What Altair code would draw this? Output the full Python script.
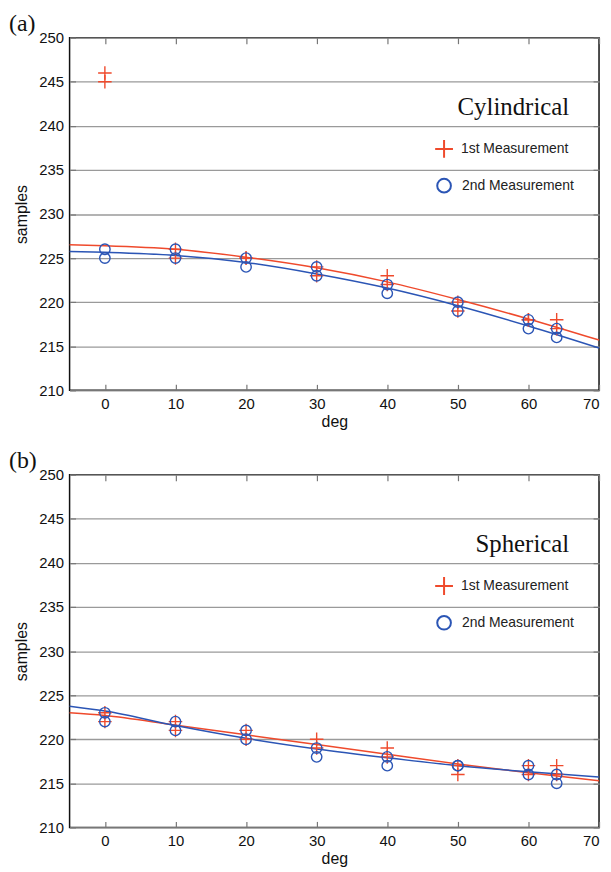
import altair as alt
import pandas as pd

# ---------------- data ----------------
angles = [0, 0, 10, 10, 20, 20, 30, 30, 40, 40, 50, 50, 60, 60, 64, 64]
cyl_first = [246, 245, 226, 225, 225, 225, 224, 223, 223, 222, 220, 219, 218, 218, 218, 217]
cyl_second = [226, 225, 226, 225, 225, 224, 224, 223, 222, 221, 220, 219, 218, 217, 217, 216]
sph_first = [223, 222, 222, 221, 221, 220, 220, 219, 219, 218, 217, 216, 217, 216, 217, 216]
sph_second = [223, 222, 222, 221, 221, 220, 219, 218, 218, 217, 217, 217, 217, 216, 216, 215]

fit_deg = [-5, 0, 10, 20, 30, 40, 50, 60, 70]
cyl_fit_first = [226.5, 226.4, 226.0, 225.1, 223.9, 222.3, 220.3, 218.1, 215.7]
cyl_fit_second = [225.75, 225.65, 225.3, 224.5, 223.2, 221.6, 219.6, 217.3, 214.8]
sph_fit_first = [223.0, 222.7, 221.6, 220.5, 219.4, 218.3, 217.2, 216.2, 215.3]
sph_fit_second = [223.75, 223.2, 221.55, 220.1, 218.9, 217.9, 217.0, 216.3, 215.7]

series_names = ["1st Measurement", "2nd Measurement"]
x_ticks = [0, 10, 20, 30, 40, 50, 60, 70]
y_ticks = [210, 215, 220, 225, 230, 235, 240, 245, 250]

RED = "#ef4a2c"
BLUE = "#2b55b5"
CROSS = "M-1.3,0L1.3,0M0,-1.3L0,1.3"


def points_df(first, second):
    return pd.DataFrame({
        "deg": angles + angles,
        "samples": first + second,
        "series": [series_names[0]] * len(first) + [series_names[1]] * len(second),
    })


def fit_df(first, second):
    return pd.DataFrame({
        "deg": fit_deg + fit_deg,
        "samples": first + second,
        "series": [series_names[0]] * len(first) + [series_names[1]] * len(second),
    })


xscale = alt.Scale(domain=[-5, 70], nice=False, zero=False)
yscale = alt.Scale(domain=[210, 250], nice=False, zero=False)
cscale = alt.Scale(domain=series_names, range=[RED, BLUE])
sscale = alt.Scale(domain=series_names, range=[CROSS, "circle"])

LABEL_FONT = "Liberation Sans"
TICK_OFF = -6
W = 533
H = 355


def panel(pts, fit, tag, name):
    lines = alt.Chart(fit).mark_line(interpolate="monotone", strokeWidth=1.5).encode(
        x=alt.X("deg:Q", scale=xscale, axis=alt.Axis(
            orient="bottom", values=x_ticks, offset=TICK_OFF, tickSize=6, domain=False,
            grid=False, title="deg", labelPadding=6, titlePadding=2,
            labelFontSize=15, titleFontSize=16)),
        y=alt.Y("samples:Q", scale=yscale, axis=alt.Axis(
            orient="left", values=y_ticks, offset=TICK_OFF, tickSize=6, domain=False,
            grid=True, title="samples", labelPadding=6, titlePadding=9,
            labelFontSize=15, titleFontSize=16)),
        stroke=alt.Stroke("series:N", scale=cscale, legend=None),
    )
    pts_layer = alt.Chart(pts).mark_point(filled=False, size=110, strokeWidth=1.4, opacity=1).encode(
        x=alt.X("deg:Q", scale=xscale, axis=alt.Axis(
            orient="top", values=x_ticks, offset=TICK_OFF, tickSize=6, domain=False,
            grid=False, labels=False, title=None)),
        y=alt.Y("samples:Q", scale=yscale, axis=alt.Axis(
            orient="right", values=y_ticks, offset=TICK_OFF, tickSize=6, domain=False,
            grid=False, labels=False, title=None)),
        color=alt.Color("series:N", scale=cscale, legend=None),
        shape=alt.Shape("series:N", scale=sscale, legend=None),
    )

    # hand-placed legend (inside the plot, upper right)
    leg_title = alt.Chart(pd.DataFrame({"t": [name]})).mark_text(
        font="Liberation Serif", fontSize=25, align="right", baseline="middle", color="#111"
    ).encode(x=alt.value(503), y=alt.value(70), text="t:N")

    layers = [lines, pts_layer, leg_title]
    for i, (s, ypix) in enumerate(zip(series_names, [112, 149])):
        d = pd.DataFrame({"series": [s]})
        sym = alt.Chart(d).mark_point(filled=False, size=190, strokeWidth=2, opacity=1).encode(
            x=alt.value(377), y=alt.value(ypix),
            color=alt.Color("series:N", scale=cscale, legend=None),
            shape=alt.Shape("series:N", scale=sscale, legend=None),
        )
        lab = alt.Chart(d).mark_text(
            font=LABEL_FONT, fontSize=14, align="left", baseline="middle", color="#222"
        ).encode(x=alt.value(394 if i == 0 else 395), y=alt.value(ypix), text="series:N")
        layers += [sym, lab]

    return alt.layer(*layers).resolve_axis(x="independent", y="independent").properties(
        width=W, height=H,
        title=alt.TitleParams(tag, anchor="start", frame="bounds", font="Liberation Serif",
                              fontSize=24, fontWeight="normal", color="#111", offset=-5, dx=-5),
    )


top = panel(points_df(cyl_first, cyl_second), fit_df(cyl_fit_first, cyl_fit_second), "(a)", "Cylindrical")
bottom = panel(points_df(sph_first, sph_second), fit_df(sph_fit_first, sph_fit_second), "(b)", "Spherical")

chart = alt.vconcat(top, bottom, spacing=18).properties(
    padding={"left": 0, "top": 0, "right": 0, "bottom": 0}
).configure_view(
    stroke="#111", strokeWidth=1.5
).configure_axis(
    labelFont=LABEL_FONT, titleFont=LABEL_FONT, labelColor="#111", titleColor="#111",
    titleFontWeight="normal", tickColor="#777", tickWidth=1.2,
    gridColor="#9a9a9a", gridWidth=1.3,
)

chart.save("out.html", embed_options={"renderer": "svg", "actions": False})
